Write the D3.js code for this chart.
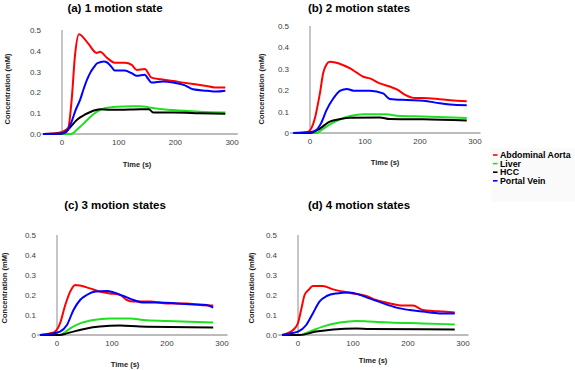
<!DOCTYPE html>
<html><head><meta charset="utf-8">
<script src="https://cdn.jsdelivr.net/npm/d3@7"></script>
<style>body{margin:0;background:#fff}svg{display:block}</style>
</head><body>
<svg id="c" width="575" height="370"></svg>
<script>
// ---------- data ----------
const seriesNames = ["Abdominal Aorta", "Liver", "HCC", "Portal Vein"];
const seriesColors = ["#ff0000", "#1ee01e", "#000000", "#0000ff"];
const panelTitles = ["(a) 1 motion state", "(b) 2 motion states", "(c) 3 motion states", "(d) 4 motion states"];
const xTicks = [0, 100, 200, 300];
const yTicks = [0, 0.1, 0.2, 0.3, 0.4, 0.5];
const yTickLabelsA = ["0.0", "0.1", "0.2", "0.3", "0.4", "0.5"];
const yTickLabelsB = ["0", "0.1", "0.2", "0.3", "0.4", "0.5"];

// [time (s), concentration (mM)]
const aortaA = [[-33,0],[-15,0.003],[0,0.01],[11,0.03],[17,0.163],[23,0.38],[30,0.48],[46,0.436],[61,0.39],[67,0.395],[80,0.365],[93,0.343],[111,0.343],[123,0.332],[132,0.308],[146,0.312],[158,0.271],[175,0.263],[196,0.255],[214,0.247],[231,0.24],[255,0.231],[269,0.224],[288,0.224]];
const liverA = [[-33,0],[15,0],[20,0.005],[26,0.02],[38,0.05],[47,0.075],[56,0.096],[65,0.112],[74,0.123],[85,0.128],[97,0.131],[120,0.134],[139,0.134],[150,0.13],[157,0.126],[196,0.115],[243,0.107],[288,0.103]];
const hccA = [[-33,0],[0,0.002],[6,0.01],[12,0.025],[17,0.04],[24,0.062],[32,0.08],[40,0.093],[50,0.106],[60,0.115],[67,0.119],[80,0.117],[91,0.116],[120,0.118],[139,0.119],[153,0.119],[161,0.103],[196,0.103],[243,0.1],[288,0.097]];
const portalA = [[-33,0],[0,0.002],[8,0.011],[17,0.06],[24,0.115],[32,0.165],[38,0.215],[44,0.26],[50,0.295],[56,0.32],[62,0.34],[67,0.345],[74,0.348],[79,0.345],[88,0.32],[93,0.305],[111,0.305],[123,0.292],[132,0.28],[146,0.285],[152,0.265],[158,0.247],[178,0.252],[196,0.247],[217,0.234],[231,0.215],[255,0.208],[272,0.204],[288,0.208]];

const aortaB = [[-30,0],[-10,0.003],[-3,0.006],[3,0.025],[9,0.07],[14,0.13],[18,0.185],[24,0.28],[30,0.32],[36,0.333],[48,0.328],[60,0.317],[73,0.302],[85,0.282],[97,0.263],[109,0.255],[127,0.232],[145,0.217],[158,0.204],[173,0.178],[191,0.163],[206,0.163],[236,0.158],[267,0.151],[285,0.148]];
const liverB = [[-30,0],[12,0],[20,0.012],[30,0.03],[42,0.048],[55,0.064],[73,0.079],[97,0.088],[139,0.088],[158,0.081],[206,0.077],[285,0.07]];
const hccB = [[-30,0],[0,0],[9,0.008],[18,0.02],[27,0.038],[36,0.053],[55,0.065],[73,0.071],[127,0.073],[145,0.065],[206,0.064],[285,0.058]];
const portalB = [[-30,0],[0,0.004],[12,0.015],[20,0.045],[30,0.107],[42,0.16],[55,0.198],[67,0.206],[79,0.198],[109,0.198],[133,0.185],[145,0.159],[176,0.154],[206,0.151],[236,0.139],[267,0.131],[285,0.13]];

const aortaC = [[-31,0],[-13,0.008],[-4,0.016],[5.5,0.058],[15,0.15],[24,0.217],[33,0.25],[42,0.247],[60,0.233],[78,0.217],[96,0.208],[115,0.2],[127,0.175],[139,0.167],[169,0.167],[200,0.158],[236,0.158],[260,0.15],[284,0.147]];
const liverC = [[-31,0],[5,0],[15,0.015],[24,0.033],[42,0.058],[66,0.075],[96,0.083],[133,0.083],[157,0.075],[200,0.07],[284,0.062]];
const hccC = [[-31,0],[5,0],[18,0.008],[30,0.017],[54,0.033],[78,0.042],[115,0.047],[151,0.042],[284,0.038]];
const portalC = [[-31,0],[-13,0.005],[5.5,0.017],[18,0.05],[30,0.125],[42,0.175],[54,0.2],[70,0.217],[91,0.22],[103,0.213],[121,0.195],[139,0.175],[157,0.162],[187,0.162],[218,0.158],[248,0.153],[272,0.15],[284,0.137]];

const aortaD = [[-29,0],[-20,0.008],[-9,0.025],[0,0.06],[6,0.13],[12,0.2],[19,0.225],[27,0.245],[45,0.245],[64,0.228],[82,0.217],[100,0.208],[124,0.195],[142,0.175],[167,0.158],[191,0.147],[209,0.147],[227,0.125],[245,0.12],[264,0.117],[285,0.113]];
const liverD = [[-29,0],[3,0],[21,0.017],[45,0.042],[76,0.062],[106,0.07],[130,0.067],[167,0.062],[227,0.058],[285,0.053]];
const hccD = [[-29,0],[3,0],[33,0.017],[64,0.028],[106,0.033],[130,0.03],[285,0.028]];
const portalD = [[-29,0],[-14.5,0.008],[0,0.017],[15,0.05],[27,0.108],[39,0.167],[52,0.195],[70,0.208],[94,0.213],[103,0.208],[130,0.183],[155,0.158],[179,0.137],[203,0.125],[227,0.117],[258,0.108],[285,0.108]];

const panelSeries = [
  [aortaA, liverA, hccA, portalA],
  [aortaB, liverB, hccB, portalB],
  [aortaC, liverC, hccC, portalC],
  [aortaD, liverD, hccD, portalD]
];
const panelYLabels = [yTickLabelsA, yTickLabelsB, yTickLabelsB, yTickLabelsA];

// ---------- layout ----------
const layout = [
  {x0: 62,  k: 0.567, yb: 134, yt: 30,  title: [115, 12], ylab: [10, 89],  xlab: [137, 167], tickY: 145},
  {x0: 310, k: 0.55,  yb: 133, yt: 26,  title: [359, 12], ylab: [264, 89], xlab: [385, 165], tickY: 144},
  {x0: 57,  k: 0.55,  yb: 335, yt: 235, title: [115, 209], ylab: [7, 288], xlab: [125, 367], tickY: 346},
  {x0: 298, k: 0.55,  yb: 335, yt: 235, title: [359, 209], ylab: [254, 288], xlab: [373, 363], tickY: 346}
];
const xMin = -36, xMax = 310;
const FONT = "Liberation Sans, Arial, sans-serif";

const svg = d3.select("#c");

// legend background
svg.append("rect").attr("x", 491).attr("y", 148).attr("width", 84).attr("height", 54).attr("fill", "#fafafa");

layout.forEach((L, i) => {
  const x = d3.scaleLinear().domain([0, 100]).range([L.x0, L.x0 + 100 * L.k]);
  const y = d3.scaleLinear().domain([0, 0.5]).range([L.yb, L.yt]);
  const g = svg.append("g");

  g.append("line").attr("x1", x(xMin)).attr("x2", x(xMax)).attr("y1", y(0)).attr("y2", y(0))
    .attr("stroke", "#a6a6a6").attr("stroke-width", 1.3);
  g.append("line").attr("x1", x(0)).attr("x2", x(0)).attr("y1", y(0)).attr("y2", y(0.5))
    .attr("stroke", "#a6a6a6").attr("stroke-width", 1.3);

  const labs = panelYLabels[i];
  g.selectAll(".yt").data(yTicks).enter().append("text")
    .attr("x", L.x0 - 21).attr("y", d => y(d) + 3)
    .attr("text-anchor", "end").attr("font-family", FONT).attr("font-size", 8).attr("fill", "#404040")
    .text((d, j) => labs[j]);
  g.selectAll(".xt").data(xTicks).enter().append("text")
    .attr("x", d => x(d)).attr("y", L.tickY)
    .attr("text-anchor", "middle").attr("font-family", FONT).attr("font-size", 8).attr("fill", "#404040")
    .text(d => d);

  g.append("text").attr("x", L.title[0]).attr("y", L.title[1]).attr("text-anchor", "middle")
    .attr("font-family", FONT).attr("font-weight", "bold").attr("font-size", 11.5).attr("fill", "#000")
    .text(panelTitles[i]);
  g.append("text").attr("transform", `translate(${L.ylab[0]},${L.ylab[1]}) rotate(-90)`)
    .attr("text-anchor", "middle").attr("font-family", FONT).attr("font-weight", "bold")
    .attr("font-size", 7.5).attr("fill", "#222").text("Concentration (mM)");
  g.append("text").attr("x", L.xlab[0]).attr("y", L.xlab[1]).attr("text-anchor", "middle")
    .attr("font-family", FONT).attr("font-weight", "bold").attr("font-size", 7.5).attr("fill", "#222")
    .text("Time (s)");

  const line = d3.line().x(d => x(d[0])).y(d => y(d[1])).curve(d3.curveMonotoneX);
  panelSeries[i].forEach((s, j) => {
    g.append("path").datum(s).attr("d", line).attr("fill", "none")
      .attr("stroke", seriesColors[j]).attr("stroke-width", 2).attr("stroke-linejoin", "round");
  });
});

const lg = svg.append("g");
seriesNames.forEach((n, j) => {
  const yy = 155 + j * 8.6;
  lg.append("line").attr("x1", 493).attr("x2", 497.5).attr("y1", yy).attr("y2", yy)
    .attr("stroke", seriesColors[j]).attr("stroke-width", 1.6);
  lg.append("text").attr("x", 500).attr("y", yy + 3.2).attr("font-family", FONT).attr("font-weight", "bold")
    .attr("font-size", 8.8).attr("fill", "#000").text(n);
});
</script>
</body></html>
